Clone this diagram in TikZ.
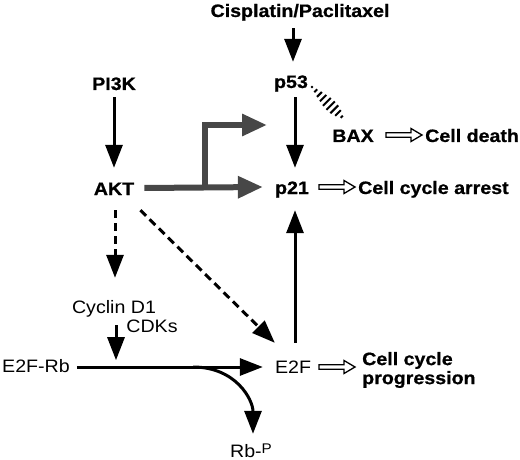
\documentclass[tikz,border=0pt]{standalone}
\usepackage{fontspec}
\setmainfont{Liberation Sans}[FakeStretch=1.09, BoldFeatures={FakeBold=0.8}]
\usetikzlibrary{arrows.meta,calc}
\definecolor{garrow}{HTML}{474747}
\begin{document}
\begin{tikzpicture}[x=1pt,y=-1pt,
  lbl/.style={inner sep=0pt, text height=12pt, text depth=4pt, anchor=base, font=\fontsize{18}{19}\selectfont},
  blbl/.style={lbl, font=\fontsize{18}{19}\selectfont\bfseries},
  arr/.style={line width=3pt, -{Triangle[length=23pt,width=17pt]}},
  darr/.style={arr, dash pattern=on 8pt off 5pt},
  garr/.style={draw=garrow, line width=6pt, line join=miter, -{Triangle[length=25pt,width=21pt]}, fill=none},
  openarr/.pic={\draw[line width=1.3pt, line join=miter] (0,-2.3)--(25,-2.3)--(25,-6.5)--(36,0)--(25,6.5)--(25,2.3)--(0,2.3)--cycle;}
]
\useasboundingbox (0,0) rectangle (520,460);

% labels
\node[blbl] (cis) at (300,17) {Cisplatin/Paclitaxel};
\node[blbl] (pi3k) at (114,90) {PI3K};
\node[blbl] (p53) at (291,88) {p53};
\node[blbl] (akt) at (114,195) {AKT};
\node[blbl] (p21) at (292,194) {p21};
\node[blbl] (bax) at (353,142) {BAX};
\node[blbl, anchor=base west] (death) at (425,142) {Cell death};
\node[blbl, anchor=base west] (arrest) at (358,194) {Cell cycle arrest};
\node[lbl] (cyclin) at (114,313) {Cyclin D1};
\node[lbl] (cdks) at (152,332) {CDKs};
\node[lbl, anchor=base west] (e2frb) at (2,372) {E2F-Rb};
\node[lbl] (e2f) at (293,373) {E2F};
\node[inner sep=0pt, anchor=west, align=left, font=\fontsize{18}{19}\selectfont\bfseries] (prog) at (362,370) {Cell cycle\\progression};
\node[lbl] (rbp) at (251,457) {Rb-\raisebox{4pt}{\fontsize{14}{14}\selectfont P}};

% top arrows
\draw[arr] ($(cis.south -| p53)+(2,7)$) -- ($(p53.north)+(2,-14)$);
\draw[arr] ($(p53.south)+(4,5)$) -- ($(p21.north)+(3,-14)$);
\draw[arr] ($(pi3k.south)+(0,3)$) -- ($(akt.north)+(0,-15)$);

% gray AKT arrows
\coordinate (br) at (205,188);
\coordinate (gtip) at (267,125);
\draw[garr] ($(akt.east)+(10,-3)$) -- ($(p21.west)+(-12,-3)$);
\draw[garr] (br) |- (gtip);

% p53 -- BAX hatched link
\coordinate (hs) at (312,87);
\coordinate (he) at (343,118);
\foreach \t/\l in {0/2,0.12/4,0.24/7,0.36/9,0.48/11,0.6/12,0.72/11,0.84/8,0.96/3}{
  \draw[line width=2pt] ($(hs)!\t!(he)$) ++({\l/2*0.7071},{-\l/2*0.7071}) -- ++({-\l*0.7071},{\l*0.7071});
}

% open arrows
\pic at (386,135) {openarr};
\pic at (319,187) {openarr};
\pic at (319,367) {openarr};

% lower arrows
\draw[darr] ($(akt.south)+(1,11)$) -- ($(cyclin.north)+(1,-23)$);
\draw[darr] ($(akt.south east)+(6,11)$) -- ($(e2f.north west)+(0,-18)$);
\draw[arr] ($(cyclin.south)+(2,8)$) -- ($(cyclin.south)+(2,43)$);
\draw[arr] ($(e2frb.east)+(7,-1)$) -- ($(e2frb.east -| e2f.west)+(-12,-1)$);
\coordinate (cs) at (193,367);
\draw[arr] (cs) .. controls (236,367) and ($(rbp.north)+(2,-45)$) .. ($(rbp.north)+(2,-11)$);
\draw[arr] ($(e2f.north)+(2,-18)$) -- ($(p21.south)+(3,12)$);
\end{tikzpicture}
\end{document}
